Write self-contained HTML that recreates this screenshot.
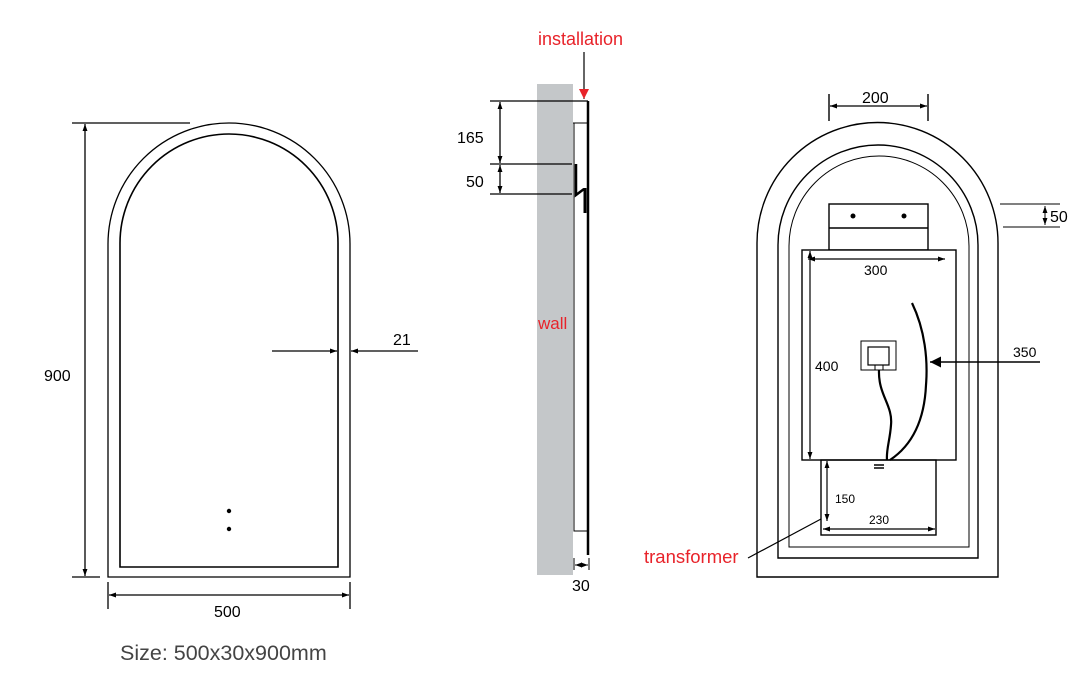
<!DOCTYPE html>
<html><head><meta charset="utf-8"><style>
html,body{margin:0;padding:0;background:#fff;width:1080px;height:700px;overflow:hidden}
svg{display:block}
text{font-family:"Liberation Sans",sans-serif}
</style></head><body>
<svg width="1080" height="700" viewBox="0 0 1080 700" xmlns="http://www.w3.org/2000/svg">
<defs>
<marker id="a" viewBox="0 0 10 10" refX="10" refY="5" markerWidth="10" markerHeight="7" orient="auto-start-reverse" markerUnits="userSpaceOnUse"><path d="M0,1.5 L10,5 L0,8.5Z" fill="#000"/></marker>
<marker id="b" viewBox="0 0 10 10" refX="10" refY="5" markerWidth="16" markerHeight="11" orient="auto" markerUnits="userSpaceOnUse"><path d="M0,0 L10,5 L0,10Z" fill="#000"/></marker>
<marker id="r" viewBox="0 0 10 10" refX="10" refY="5" markerWidth="12" markerHeight="10" orient="auto" markerUnits="userSpaceOnUse"><path d="M0,0 L10,5 L0,10Z" fill="#e8232a"/></marker>
</defs>
<g fill="none" stroke="#000" stroke-width="1.3">
<path d="M108,577 V244 A121,121 0 0 1 350,244 V577 Z"/>
<path d="M120,567 V243 A109,109 0 0 1 338,243 V567 Z" stroke-width="1.6"/>
<line x1="72" y1="123" x2="190" y2="123"/>
<line x1="72" y1="577" x2="100" y2="577"/>
<line x1="85" y1="124" x2="85" y2="576" marker-start="url(#a)" marker-end="url(#a)"/>
<line x1="108" y1="582" x2="108" y2="609"/>
<line x1="350" y1="582" x2="350" y2="609"/>
<line x1="109" y1="595" x2="349" y2="595" marker-start="url(#a)" marker-end="url(#a)"/>
<line x1="272" y1="351" x2="337" y2="351" marker-end="url(#a)"/>
<line x1="418" y1="351" x2="351" y2="351" marker-end="url(#a)"/>
</g>
<circle cx="229" cy="511" r="2.2"/><circle cx="229" cy="529" r="2.2"/>
<text x="44" y="381" font-size="16">900</text>
<text x="214" y="617" font-size="16">500</text>
<text x="393" y="345" font-size="16">21</text>
<text x="120" y="660" font-size="21.5" fill="#444">Size: 500x30x900mm</text>

<rect x="537" y="84" width="36" height="491" fill="#c4c7c9"/>
<g fill="none" stroke="#000">
<line x1="588" y1="101" x2="588" y2="555" stroke-width="2.5"/>
<path d="M573,123 H587 M574,123 V531 H587" stroke-width="1"/>
<line x1="490" y1="101" x2="588" y2="101" stroke-width="1.2"/>
<line x1="490" y1="164" x2="572" y2="164" stroke-width="1.2"/>
<line x1="490" y1="194" x2="572" y2="194" stroke-width="1.2"/>
<line x1="500" y1="102" x2="500" y2="163" stroke-width="1.3" marker-start="url(#a)" marker-end="url(#a)"/>
<line x1="500" y1="165" x2="500" y2="193" stroke-width="1.3" marker-start="url(#a)" marker-end="url(#a)"/>
<path d="M576,164 V195 L584,189" stroke-width="2.5"/>
<line x1="585" y1="188" x2="585" y2="213" stroke-width="3"/>
<line x1="574" y1="558" x2="574" y2="570" stroke-width="1"/>
<line x1="589" y1="558" x2="589" y2="570" stroke-width="1"/>
<line x1="575" y1="565" x2="588" y2="565" stroke-width="1" marker-start="url(#a)" marker-end="url(#a)"/>
<line x1="584" y1="52" x2="584" y2="99" stroke="#000" stroke-width="1.2" marker-end="url(#r)"/>
</g>
<text x="457" y="143" font-size="16">165</text>
<text x="466" y="187" font-size="16">50</text>
<text x="572" y="591" font-size="16">30</text>
<text x="538" y="45" font-size="18" fill="#e8232a">installation</text>
<text x="538" y="329" font-size="17" fill="#e8232a">wall</text>

<g fill="none" stroke="#000" stroke-width="1.4">
<path d="M757,577 V243 A120.5,120.5 0 0 1 998,243 V577 Z"/>
<path d="M778,558 V245 A100,100 0 0 1 978,245 V558 Z"/>
<path d="M789,547 V246 A90,90 0 0 1 969,246 V547 Z" stroke-width="1"/>
<rect x="829" y="204" width="99" height="46" fill="#fff"/>
<line x1="829" y1="228" x2="928" y2="228"/>
<rect x="802" y="250" width="154" height="210" fill="#fff"/>
<rect x="821" y="460" width="115" height="75"/>
<line x1="829" y1="94" x2="829" y2="121"/>
<line x1="928" y1="94" x2="928" y2="121"/>
<line x1="830" y1="106" x2="927" y2="106" stroke-width="1.2" marker-start="url(#a)" marker-end="url(#a)"/>
<line x1="1000" y1="204" x2="1060" y2="204" stroke-width="1"/>
<line x1="1003" y1="227" x2="1060" y2="227" stroke-width="1"/>
<line x1="1045" y1="206" x2="1045" y2="225" stroke-width="1" marker-start="url(#a)" marker-end="url(#a)"/>
<line x1="808" y1="259" x2="945" y2="259" stroke-width="1.2" marker-start="url(#a)" marker-end="url(#a)"/>
<line x1="810" y1="251" x2="810" y2="459" stroke-width="1.2" marker-start="url(#a)" marker-end="url(#a)"/>
<line x1="827" y1="461" x2="827" y2="521" stroke-width="1.2" marker-start="url(#a)" marker-end="url(#a)"/>
<line x1="823" y1="529" x2="935" y2="529" stroke-width="1.2" marker-start="url(#a)" marker-end="url(#a)"/>
<line x1="1040" y1="362" x2="930" y2="362" stroke-width="1.5" marker-end="url(#b)"/>
<rect x="861" y="341" width="35" height="29" stroke-width="1"/>
<rect x="868" y="347" width="21" height="18" stroke-width="1.2"/>
<rect x="875" y="365" width="8" height="5" stroke-width="1"/>
<path d="M879,370 C878,395 893,405 891,425 C890,440 886,450 887,460" stroke-width="2.2"/>
<path d="M912,303 C925,330 928,360 926,385 C924,430 905,450 890,460" stroke-width="2.2"/>
<line x1="874" y1="465" x2="884" y2="465" stroke-width="1.5"/>
<line x1="874" y1="468" x2="884" y2="468" stroke-width="1.5"/>
<line x1="748" y1="558" x2="821" y2="519" stroke-width="1.2"/>
</g>
<circle cx="853" cy="216" r="2.5"/><circle cx="904" cy="216" r="2.5"/>
<text x="862" y="103" font-size="16">200</text>
<text x="1050" y="222" font-size="16">50</text>
<text x="864" y="275" font-size="14">300</text>
<text x="815" y="371" font-size="14">400</text>
<text x="835" y="503" font-size="12">150</text>
<text x="869" y="524" font-size="12">230</text>
<text x="1013" y="357" font-size="14">350</text>
<text x="644" y="563" font-size="18.5" fill="#e8232a">transformer</text>
</svg>
</body></html>
